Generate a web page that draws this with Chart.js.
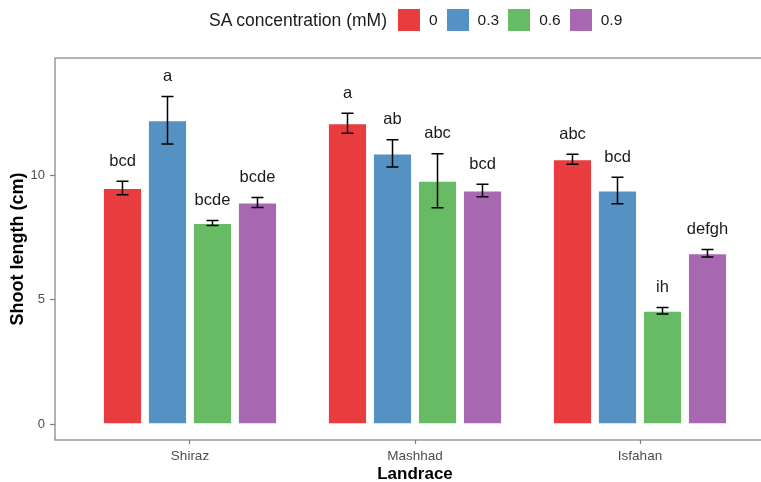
<!DOCTYPE html>
<html>
<head>
<meta charset="utf-8">
<script src="https://cdn.jsdelivr.net/npm/chart.js@4"></script>
<style>
  html, body { margin: 0; padding: 0; background: #fff; overflow: hidden; }
  #wrap { position: relative; width: 790px; height: 482px; }
  #legend {
    position: absolute; left: 209px; top: 9px; height: 22px;
    display: flex; align-items: center;
    font-family: 'Liberation Sans', Arial, sans-serif; color: #1a1a1a;
  }
  #legend .ttl { font-size: 17.5px; margin-right: 11px; }
  #legend .box { width: 22px; height: 22px; margin-right: 9px; box-sizing: border-box; }
  #legend .lab { font-size: 15.5px; margin-right: 9px; }
</style>
</head>
<body>
<div id="wrap">
  <canvas id="chart" width="790" height="482"></canvas>
  <div id="legend"></div>
</div>
<script>
// ── Data ──
const landraces = ['Shiraz', 'Mashhad', 'Isfahan'];
const concentrations = ['0', '0.3', '0.6', '0.9'];
const colors = ['#E83C3E', '#5591C2', '#67BB65', '#A768B1'];

const means = [
  [9.48, 12.08, 10.63],   // 0 mM
  [12.2, 10.87, 9.38],    // 0.3 mM
  [8.07, 9.77, 4.55],     // 0.6 mM
  [8.9, 9.38, 6.86]       // 0.9 mM
];
const errors = [
  [0.27, 0.4, 0.2],
  [0.95, 0.55, 0.53],
  [0.1, 1.08, 0.13],
  [0.2, 0.25, 0.15]
];
const letters = [
  ['bcd', 'a', 'abc'],
  ['a', 'ab', 'bcd'],
  ['bcde', 'abc', 'ih'],
  ['bcde', 'bcd', 'defgh']
];
const yTicks = [0, 5, 10];

// ── Legend (HTML) ──
const legendEl = document.getElementById('legend');
let lhtml = '<span class="ttl">SA concentration (mM)</span>';
concentrations.forEach((c, i) => {
  lhtml += '<span class="box" style="background:' + colors[i] + '"></span><span class="lab">' + c + '</span>';
});
legendEl.innerHTML = lhtml;

// ── Error bars, letters, panel border ──
const extras = {
  id: 'extras',
  afterDatasetsDraw(chart) {
    const ctx = chart.ctx;
    const y = chart.scales.y;
    ctx.save();
    chart.data.datasets.forEach((ds, i) => {
      const meta = chart.getDatasetMeta(i);
      meta.data.forEach((bar, j) => {
        const m = means[i][j], e = errors[i][j];
        const top = y.getPixelForValue(m + e);
        const bot = y.getPixelForValue(m - e);
        ctx.strokeStyle = '#000';
        ctx.lineWidth = 1.5;
        ctx.beginPath();
        ctx.moveTo(bar.x, top); ctx.lineTo(bar.x, bot);
        ctx.moveTo(bar.x - 6, top); ctx.lineTo(bar.x + 6, top);
        ctx.moveTo(bar.x - 6, bot); ctx.lineTo(bar.x + 6, bot);
        ctx.stroke();
        ctx.fillStyle = '#1a1a1a';
        ctx.font = '16.5px "Liberation Sans", Arial, sans-serif';
        ctx.textAlign = 'center';
        ctx.textBaseline = 'middle';
        ctx.fillText(letters[i][j], bar.x, top - 20);
      });
    });
    const a = chart.chartArea;
    ctx.strokeStyle = '#7f7f7f';
    ctx.lineWidth = 1.2;
    ctx.strokeRect(a.left, a.top, a.right - a.left, a.bottom - a.top);
    ctx.restore();
  }
};

new Chart(document.getElementById('chart'), {
  type: 'bar',
  data: {
    datasets: concentrations.map((c, i) => ({
      label: c,
      data: means[i].map((v, j) => ({ x: j + 1, y: v })),
      backgroundColor: colors[i],
      borderColor: 'rgba(255,255,255,0.35)',
      borderWidth: 1,
      categoryPercentage: 0.8,
      barPercentage: 0.87
    }))
  },
  options: {
    responsive: false,
    animation: false,
    layout: { padding: { top: 58, right: 15, left: 0, bottom: 0 } },
    plugins: { legend: { display: false }, tooltip: { enabled: false } },
    scales: {
      x: {
        type: 'linear',
        offset: false,
        min: 0.4,
        max: 3.6,
        afterBuildTicks: s => { s.ticks = landraces.map((_, i) => ({ value: i + 1 })); },
        afterFit: s => { s.height = 42; },
        ticks: {
          callback: v => landraces[v - 1] || '',
          color: '#4d4d4d',
          padding: 4,
          font: { family: "'Liberation Sans', sans-serif", size: 13.5 }
        },
        grid: { offset: false, drawOnChartArea: false, tickLength: 4, tickColor: '#7f7f7f', tickWidth: 1.2 },
        border: { display: false },
        title: {
          display: true, text: 'Landrace', color: '#000',
          padding: { top: 0, bottom: -3 },
          font: { family: "'Liberation Sans', sans-serif", size: 17, weight: 'bold' }
        }
      },
      y: {
        min: -0.64,
        max: 14.7,
        afterBuildTicks: s => { s.ticks = yTicks.map(v => ({ value: v })); },
        afterFit: s => { s.width = 55; },
        ticks: {
          color: '#4d4d4d',
          padding: 5,
          font: { family: "'Liberation Sans', sans-serif", size: 13 }
        },
        grid: { drawOnChartArea: false, tickLength: 5, tickColor: '#7f7f7f', tickWidth: 1.2 },
        border: { display: false },
        title: {
          display: true, text: 'Shoot length (cm)', color: '#000',
          padding: { top: 7, bottom: 0 },
          font: { family: "'Liberation Sans', sans-serif", size: 18, weight: 'bold' }
        }
      }
    }
  },
  plugins: [extras]
});
</script>
</body>
</html>
